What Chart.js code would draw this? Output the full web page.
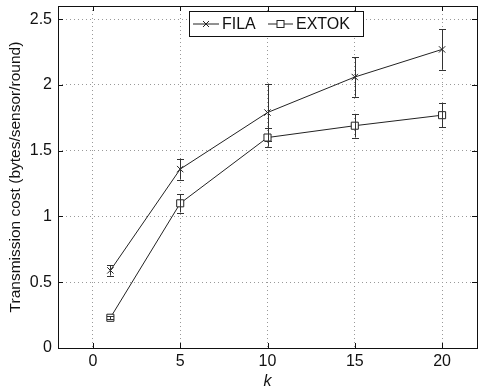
<!DOCTYPE html>
<html>
<head>
<meta charset="utf-8">
<script src="https://cdn.jsdelivr.net/npm/chart.js@4/dist/chart.umd.min.js"></script>
<style>
    body { margin: 0; background: #fff; }
    canvas { display: block; }
</style>
</head>
<body>
<canvas id="costChart" width="490" height="391"></canvas>
<script>
// values
var kValues = [1, 5, 10, 15, 20];
var filaCost = [0.59, 1.36, 1.79, 2.06, 2.27];
var filaErr = [0.04, 0.08, 0.22, 0.15, 0.155];
var extokCost = [0.23, 1.10, 1.60, 1.69, 1.77];
var extokErr = [0.01, 0.07, 0.07, 0.09, 0.09];
var xTicks = [0, 5, 10, 15, 20];
var yTicks = [0, 0.5, 1, 1.5, 2, 2.5];
var seriesNames = ['FILA', 'EXTOK'];

var FONT = '"Liberation Sans", Arial, Helvetica, sans-serif';

function points(xs, ys) {
    return xs.map(function(x, i) { return { x: x, y: ys[i] }; });
}

// error bars drawn through the chart scales
var errorBars = {
    id: 'errorBars',
    afterDatasetsDraw: function(chart) {
        var ctx = chart.ctx;
        var xs = chart.scales.x, ys = chart.scales.y;
        var errs = [filaErr, extokErr];
        ctx.save();
        ctx.strokeStyle = '#333';
        ctx.lineWidth = 1;
        chart.data.datasets.forEach(function(ds, d) {
            ds.data.forEach(function(p, i) {
                var px = Math.round(xs.getPixelForValue(p.x)) + 0.5;
                var top = ys.getPixelForValue(p.y + errs[d][i]);
                var bot = ys.getPixelForValue(p.y - errs[d][i]);
                ctx.beginPath();
                ctx.moveTo(px, top); ctx.lineTo(px, bot);
                ctx.moveTo(px - 3.5, Math.round(top) + 0.5); ctx.lineTo(px + 3.5, Math.round(top) + 0.5);
                ctx.moveTo(px - 3.5, Math.round(bot) + 0.5); ctx.lineTo(px + 3.5, Math.round(bot) + 0.5);
                ctx.stroke();
            });
        });
        ctx.restore();
    }
};

// box frame with inward ticks, plus the legend box
var frameAndLegend = {
    id: 'frameAndLegend',
    afterDraw: function(chart) {
        var ctx = chart.ctx;
        var a = chart.chartArea;
        var xs = chart.scales.x, ys = chart.scales.y;
        ctx.save();
        ctx.strokeStyle = '#111';
        ctx.lineWidth = 1;
        ctx.strokeRect(Math.round(a.left) + 0.5, Math.round(a.top) + 0.5,
            Math.round(a.right - a.left), Math.round(a.bottom - a.top));
        ctx.beginPath();
        xTicks.forEach(function(v) {
            var px = Math.round(xs.getPixelForValue(v)) + 0.5;
            ctx.moveTo(px, a.bottom); ctx.lineTo(px, a.bottom - 5);
            ctx.moveTo(px, a.top); ctx.lineTo(px, a.top + 5);
        });
        yTicks.forEach(function(v) {
            var py = Math.round(ys.getPixelForValue(v)) + 0.5;
            ctx.moveTo(a.left, py); ctx.lineTo(a.left + 5, py);
            ctx.moveTo(a.right, py); ctx.lineTo(a.right - 5, py);
        });
        ctx.stroke();

        // legend
        var lx = a.left + 131, ly = a.top + 5, lw = 174, lh = 25;
        ctx.fillStyle = '#fff';
        ctx.fillRect(lx, ly, lw, lh);
        ctx.strokeStyle = '#111';
        ctx.strokeRect(lx + 0.5, ly + 0.5, lw, lh);
        var cy = ly + lh / 2 + 0.5;
        ctx.strokeStyle = '#222';
        ctx.beginPath();
        ctx.moveTo(lx + 4, cy); ctx.lineTo(lx + 30, cy);
        ctx.moveTo(lx + 79, cy); ctx.lineTo(lx + 104, cy);
        // cross marker
        var mx = lx + 17;
        ctx.moveTo(mx - 3, cy - 3); ctx.lineTo(mx + 3, cy + 3);
        ctx.moveTo(mx - 3, cy + 3); ctx.lineTo(mx + 3, cy - 3);
        ctx.stroke();
        // square marker
        ctx.fillStyle = '#fff';
        ctx.fillRect(lx + 88, cy - 3.5, 7, 7);
        ctx.strokeRect(lx + 88, cy - 3.5, 7, 7);
        ctx.fillStyle = '#111';
        ctx.font = '16px ' + FONT;
        ctx.textBaseline = 'middle';
        ctx.fillText(seriesNames[0], lx + 33, cy + 1);
        ctx.fillText(seriesNames[1], lx + 107, cy + 1);
        ctx.restore();
    }
};

document.addEventListener('DOMContentLoaded', function() {
    var ctx = document.getElementById('costChart').getContext('2d');
    new Chart(ctx, {
        type: 'line',
        data: {
            datasets: [{
                label: seriesNames[0],
                data: points(kValues, filaCost),
                borderColor: '#222',
                borderWidth: 1,
                pointStyle: 'crossRot',
                pointRadius: 4.5,
                pointBorderColor: '#222',
                pointBorderWidth: 1,
                fill: false
            }, {
                label: seriesNames[1],
                data: points(kValues, extokCost),
                borderColor: '#222',
                borderWidth: 1,
                pointStyle: 'rect',
                pointRadius: 5,
                pointBackgroundColor: '#fff',
                pointBorderColor: '#222',
                pointBorderWidth: 1,
                fill: false
            }]
        },
        options: {
            responsive: false,
            animation: false,
            layout: { padding: { left: 0, right: 13, top: -2, bottom: 0 } },
            plugins: {
                legend: { display: false },
                tooltip: { enabled: false }
            },
            scales: {
                x: {
                    type: 'linear',
                    min: -2,
                    max: 22,
                    afterBuildTicks: function(scale) {
                        scale.ticks = xTicks.map(function(v) { return { value: v }; });
                    },
                    afterFit: function(scale) {
                        scale.height = 43;
                        scale.paddingLeft = 0;
                        scale.paddingRight = 0;
                    },
                    grid: { color: '#999', drawTicks: false, lineWidth: 1 },
                    border: { display: false, dash: [1, 3] },
                    ticks: {
                        padding: 4,
                        color: '#111',
                        font: { family: FONT, size: 16 }
                    },
                    title: {
                        display: true,
                        text: 'k',
                        color: '#111',
                        padding: { top: -3, bottom: 0 },
                        font: { family: FONT, size: 16, style: 'italic' }
                    }
                },
                y: {
                    min: 0,
                    max: 2.6,
                    afterBuildTicks: function(scale) {
                        scale.ticks = yTicks.map(function(v) { return { value: v }; });
                    },
                    afterFit: function(scale) {
                        scale.width = 58;
                        scale.paddingTop = 0;
                        scale.paddingBottom = 0;
                    },
                    grid: { color: '#999', drawTicks: false, lineWidth: 1 },
                    border: { display: false, dash: [1, 3] },
                    ticks: {
                        padding: 6,
                        color: '#111',
                        font: { family: FONT, size: 16 },
                        callback: function(v) { return String(v); }
                    },
                    title: {
                        display: true,
                        text: 'Transmission cost (bytes/sensor/round)',
                        color: '#111',
                        padding: { top: 6, bottom: 0 },
                        font: { family: FONT, size: 15.5 }
                    }
                }
            }
        },
        plugins: [errorBars, frameAndLegend]
    });
});
</script>
</body>
</html>
